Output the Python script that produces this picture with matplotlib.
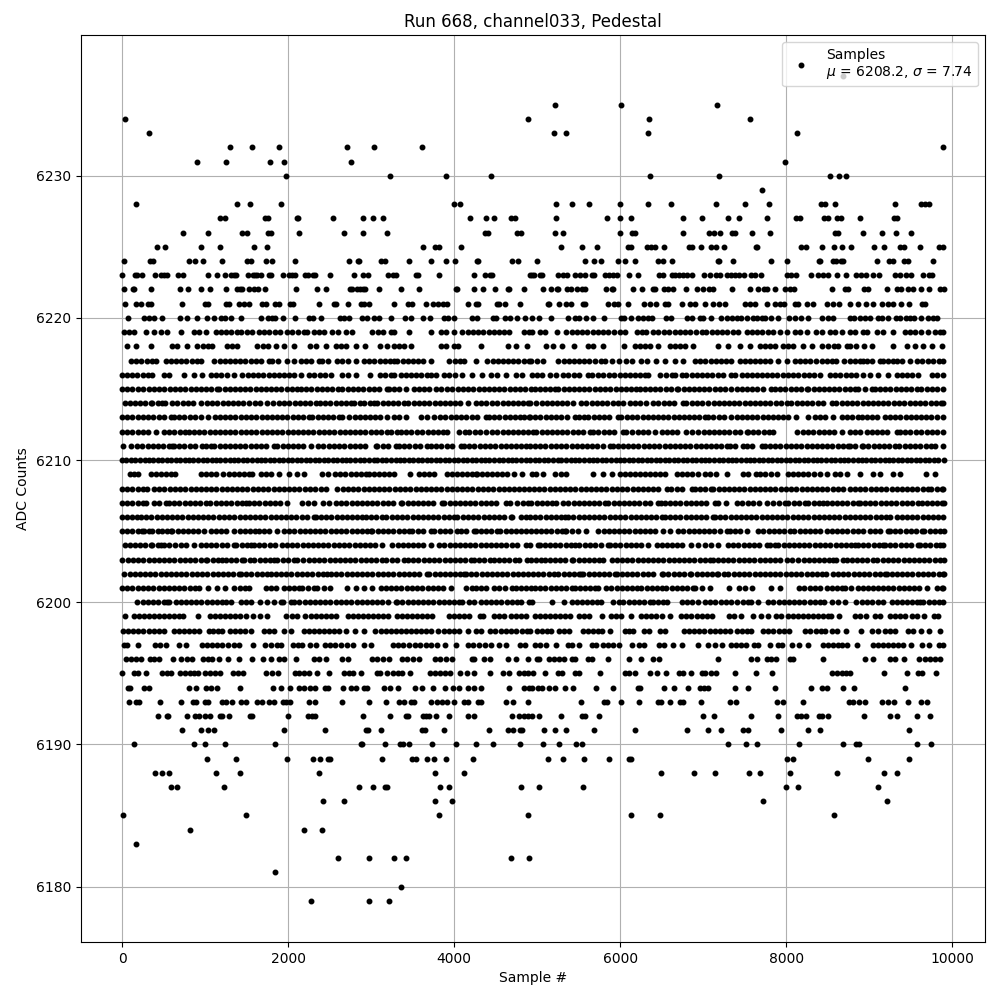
import matplotlib
matplotlib.use("Agg")
import matplotlib.pyplot as plt

# Sample numbers, one list per ADC level
s6179 = [2277, 2976, 3217]
s6180 = [3361]
s6181 = [1843]
s6182 = [2602, 2976, 3277, 3422, 4687, 4904]
s6183 = [169]
s6184 = [819, 2193, 2410]
s6185 = [12, 1494, 3819, 4892, 6133, 6482, 8578]
s6186 = [2422, 2675, 3771, 3976, 7723, 9217]
s6187 = [590, 663, 1229, 2855, 3024, 3169, 3193, 3831, 3940, 4807, 5024, 5554, 8000, 8145, 9108]
s6188 = [398, 482, 566, 1133, 1422, 2373, 3771, 4120, 6494, 6892, 7145, 7554, 7687, 8048, 8614, 9181, 9337]
s6189 = [1024, 1373, 1988, 2301, 2385, 2482, 2506, 3133, 3494, 3542, 3675, 3759, 3904, 4229, 5133, 5313, 5566, 5867,
         6108, 6133, 8012, 8084, 8988, 9482]
s6190 = [145, 867, 1000, 1241, 1843, 2880, 2892, 3169, 3349, 3386, 3458, 3735, 4024, 4265, 4470, 4795, 5072, 5265,
         5470, 5542, 7301, 7518, 7651, 8157, 8687, 8843, 8880, 9578, 9747]
s6191 = [723, 952, 1036, 1108, 1952, 2446, 2940, 2964, 3120, 3614, 3651, 3880, 4422, 4650, 4711, 4795, 4819, 5084,
         5217, 5349, 5687, 6181, 6807, 7060, 7217, 7482, 7542, 7940, 8265, 8410, 9482]
s6192 = [434, 542, 554, 783, 880, 928, 1000, 1060, 1181, 1205, 1289, 1542, 1566, 2000, 2241, 2289, 2325, 2904, 3229,
         3422, 3446, 3627, 3663, 3699, 3783, 3940, 4169, 4241, 4699, 4783, 4843, 4892, 4940, 5024, 5289, 5542, 5578,
         5747, 7000, 7133, 7578, 7904, 8133, 8181, 8241, 8398, 8434, 8506, 8940, 9253, 9337, 9578, 9735]
s6193 = [84, 169, 205, 458, 711, 855, 892, 1000, 1036, 1205, 1253, 1325, 1430, 1494, 1627, 1687, 1771, 1831, 1940,
         1976, 2024, 2253, 2325, 2651, 2976, 3181, 3337, 3398, 3482, 3518, 3723, 3795, 3855, 3916, 4000, 4120, 4169,
         4289, 4325, 4626, 4711, 4892, 5530, 5807, 5843, 6012, 6229, 6458, 6494, 6606, 6723, 6759, 6976, 7325, 7398,
         7892, 7964, 8205, 8759, 8807, 8880, 8952, 9157, 9229, 9301, 9470, 9627, 9699]
s6194 = [72, 96, 265, 325, 807, 892, 1012, 1072, 1145, 1422, 1819, 1916, 2024, 2133, 2193, 2265, 2325, 2446, 2482,
         2663, 2759, 2819, 2916, 2952, 3157, 3229, 3325, 3530, 3614, 3747, 3892, 3988, 4060, 4161, 4241, 4321, 4662,
         4843, 4904, 4932, 5012, 5060, 5145, 5217, 5337, 5434, 5711, 5916, 6217, 6241, 6530, 6651, 6819, 6964, 7012,
         7060, 7386, 7542, 7867, 8301, 8434, 8494, 8687, 8819, 9434]
s6195 = [0, 145, 193, 289, 482, 542, 590, 699, 759, 819, 867, 916, 1000, 1060, 1120, 1181, 1337, 1398, 1458, 1735,
         1807, 1879, 2084, 2133, 2193, 2253, 2349, 2494, 2675, 2735, 2783, 2880, 3072, 3108, 3193, 3265, 3325, 3373,
         3470, 3711, 3771, 3831, 3892, 3952, 4072, 4157, 4241, 4434, 4594, 4663, 4783, 4843, 4892, 4952, 5096, 5253,
         5301, 5458, 5506, 5759, 6060, 6108, 6181, 6361, 6446, 6554, 6711, 6759, 6855, 6988, 7024, 7096, 7157, 7386,
         7639, 7831, 8554, 8614, 8675, 8723, 8771, 9181, 9458, 9590, 9638, 9807]
s6196 = [48, 104, 165, 225, 337, 386, 446, 618, 711, 783, 843, 976, 1036, 1084, 1169, 1277, 1410, 1566, 1699, 1795,
         1892, 1952, 2096, 2313, 2373, 2458, 2651, 2723, 3012, 3072, 3145, 3217, 3373, 3434, 3506, 3578, 3771, 3831,
         3904, 3976, 4217, 4241, 4361, 4434, 4650, 4747, 4892, 5000, 5024, 5145, 5205, 5265, 5325, 5422, 5458, 5618,
         5655, 5855, 6108, 6253, 6398, 6470, 7181, 7578, 7651, 7771, 7819, 7880, 8048, 8084, 8446, 8952, 9048, 9253,
         9313, 9422, 9602, 9675, 9735, 9795, 9855]
s6197 = [24, 64, 193, 398, 458, 530, 687, 771, 964, 1024, 1084, 1145, 1205, 1277, 1349, 1410, 1578, 1723, 1795, 1867,
         1916, 2060, 2120, 2169, 2265, 2337, 2446, 2506, 2566, 2639, 2711, 2783, 2916, 3000, 3265, 3325, 3386, 3458,
         3530, 3590, 3663, 3723, 3795, 3892, 4024, 4169, 4229, 4301, 4373, 4446, 4542, 4626, 4795, 4855, 4972, 5032,
         5104, 5229, 5373, 5422, 5506, 5663, 5711, 5795, 5855, 5916, 5988, 6145, 6229, 6289, 6470, 6530, 6639, 6747,
         6940, 7060, 7145, 7229, 7337, 7398, 7458, 7518, 7614, 7663, 7807, 7904, 7952, 8072, 8157, 8265, 8446, 8506,
         8566, 8627, 8675, 8735, 8855, 9048, 9108, 9169, 9229, 9289, 9349, 9410, 9506, 9631, 9723, 9843, 9890]
s6198 = [12, 72, 133, 193, 253, 325, 386, 446, 506, 627, 687, 747, 807, 867, 928, 1048, 1096, 1157, 1205, 1301, 1361,
         1422, 1482, 1554, 1711, 1771, 1831, 1952, 2032, 2193, 2253, 2313, 2373, 2434, 2494, 2554, 2614, 2699, 2807,
         2916, 3048, 3120, 3181, 3241, 3301, 3361, 3422, 3482, 3542, 3602, 3663, 3723, 3807, 3879, 3940, 4000, 4060,
         4169, 4265, 4325, 4434, 4494, 4566, 4626, 4687, 4747, 4819, 4879, 4912, 5000, 5060, 5120, 5169, 5265, 5325,
         5386, 5554, 5614, 5675, 5735, 5783, 5880, 6060, 6108, 6157, 6289, 6349, 6482, 6542, 6771, 6831, 6892, 6952,
         7012, 7084, 7145, 7205, 7265, 7325, 7410, 7470, 7530, 7578, 7723, 7783, 7843, 7916, 7976, 8036, 8229, 8289,
         8361, 8422, 8470, 8554, 8614, 8723, 8904, 9036, 9108, 9193, 9253, 9313, 9470, 9530, 9627, 9723, 9855]
s6199 = [36, 145, 205, 265, 325, 386, 446, 506, 566, 627, 687, 735, 916, 1060, 1120, 1181, 1241, 1301, 1361, 1422,
         1494, 1578, 1663, 1751, 1976, 2052, 2112, 2205, 2277, 2337, 2398, 2458, 2518, 2578, 2723, 2783, 2843, 2904,
         2964, 3024, 3084, 3145, 3205, 3313, 3373, 3434, 3494, 3554, 3614, 3675, 3735, 3940, 4000, 4060, 4120, 4181,
         4313, 4349, 4482, 4542, 4602, 4687, 4747, 4807, 4868, 4976, 5036, 5096, 5157, 5217, 5277, 5337, 5398, 5506,
         5566, 5627, 5783, 5892, 5952, 6012, 6133, 6253, 6313, 6373, 6434, 6506, 6602, 6735, 6795, 6855, 6928, 6988,
         7048, 7108, 7313, 7373, 7458, 7602, 7699, 7783, 7880, 7940, 8024, 8084, 8145, 8205, 8265, 8325, 8386, 8446,
         8506, 8542, 8639, 8831, 8892, 8964, 9072, 9132, 9253, 9313, 9373, 9434, 9518, 9578, 9663, 9783, 9831]
s6200 = [185, 250, 310, 375, 435, 500, 546, 566, 646, 707, 770, 830, 895, 955, 1020, 1080, 1145, 1205, 1249, 1317,
         1430, 1498, 1558, 1662, 1751, 1830, 1912, 1944, 2040, 2072, 2135, 2200, 2260, 2325, 2385, 2450, 2510, 2575,
         2635, 2700, 2760, 2825, 2885, 2950, 3010, 3075, 3135, 3200, 3297, 3317, 3377, 3440, 3500, 3565, 3625, 3690,
         3750, 3815, 3875, 3940, 4000, 4060, 4100, 4175, 4241, 4321, 4385, 4445, 4510, 4570, 4635, 4695, 4760, 4803,
         4904, 4932, 5177, 5325, 5414, 5475, 5540, 5600, 5665, 5725, 5775, 5916, 5980, 6040, 6105, 6165, 6230, 6290,
         6357, 6398, 6460, 6520, 6566, 6739, 6800, 6865, 6940, 7020, 7085, 7145, 7210, 7270, 7335, 7402, 7482, 7540,
         7582, 7663, 7783, 7845, 7910, 7970, 8035, 8095, 8160, 8220, 8285, 8345, 8406, 8450, 8546, 8626, 8707, 8847,
         8910, 8970, 9035, 9108, 9169, 9269, 9330, 9395, 9455, 9520, 9580, 9610, 9651, 9715, 9775, 9840, 9892]
s6201 = [0, 65, 125, 190, 250, 315, 375, 440, 500, 565, 625, 690, 750, 815, 875, 928, 1036, 1141, 1245, 1349, 1415,
         1475, 1530, 1731, 1795, 1860, 1952, 2012, 2075, 2133, 2173, 2240, 2313, 2345, 2430, 2510, 2715, 2815, 2916,
         3016, 3116, 3180, 3240, 3305, 3365, 3430, 3490, 3555, 3615, 3680, 3740, 3805, 3865, 3960, 4141, 4221, 4261,
         4320, 4381, 4482, 4545, 4610, 4703, 4743, 4810, 4870, 4920, 4975, 5040, 5100, 5165, 5225, 5290, 5350, 5414,
         5454, 5520, 5580, 5640, 5695, 5735, 5835, 5895, 5960, 6020, 6085, 6145, 6197, 6257, 6320, 6380, 6440, 6498,
         6558, 6620, 6685, 6745, 6810, 6880, 6900, 6980, 7084, 7313, 7434, 7500, 7594, 7823, 7924, 8157, 8220, 8285,
         8345, 8406, 8486, 8550, 8610, 8675, 8707, 8779, 8867, 8930, 8988, 9040, 9105, 9165, 9230, 9290, 9355, 9415,
         9480, 9540, 9605, 9691, 9811, 9875, 9895]
s6202 = [24, 90, 150, 215, 275, 340, 400, 465, 525, 590, 650, 715, 775, 840, 900, 965, 1025, 1090, 1150, 1215, 1275,
         1340, 1410, 1430, 1495, 1555, 1620, 1680, 1751, 1791, 1855, 1915, 1980, 2040, 2105, 2165, 2230, 2290, 2355,
         2415, 2474, 2514, 2580, 2640, 2705, 2765, 2830, 2890, 2955, 3015, 3080, 3140, 3205, 3265, 3330, 3390, 3455,
         3515, 3580, 3679, 3699, 3765, 3825, 3890, 3950, 4015, 4075, 4120, 4141, 4205, 4265, 4330, 4390, 4455, 4515,
         4580, 4640, 4705, 4765, 4830, 4890, 4950, 5015, 5075, 5140, 5200, 5253, 5321, 5385, 5445, 5510, 5534, 5554,
         5620, 5680, 5745, 5805, 5870, 5936, 5956, 6020, 6080, 6145, 6205, 6270, 6330, 6395, 6498, 6518, 6580, 6645,
         6705, 6770, 6839, 6859, 6925, 6985, 7050, 7110, 7161, 7181, 7245, 7305, 7370, 7430, 7495, 7555, 7620, 7680,
         7745, 7805, 7870, 7930, 7995, 8055, 8120, 8180, 8245, 8305, 8370, 8426, 8478, 8566, 8627, 8690, 8750, 8815,
         8875, 8940, 9000, 9065, 9125, 9189, 9209, 9270, 9335, 9395, 9460, 9520, 9585, 9645, 9710, 9770, 9835, 9890,
         9897]
s6203 = [4, 70, 130, 195, 255, 320, 380, 445, 505, 570, 630, 695, 755, 820, 880, 945, 1008, 1028, 1090, 1150, 1209,
         1249, 1315, 1375, 1450, 1470, 1535, 1595, 1660, 1720, 1785, 1831, 1871, 1935, 2000, 2072, 2112, 2185, 2250,
         2310, 2375, 2435, 2500, 2560, 2625, 2685, 2750, 2810, 2875, 2935, 3000, 3060, 3125, 3185, 3250, 3310, 3398,
         3446, 3510, 3570, 3635, 3695, 3760, 3820, 3885, 3945, 4010, 4070, 4135, 4201, 4241, 4305, 4365, 4430, 4482,
         4542, 4605, 4665, 4730, 4783, 4880, 4930, 4990, 5052, 5092, 5155, 5215, 5280, 5340, 5414, 5434, 5500, 5560,
         5625, 5685, 5750, 5795, 5896, 5960, 6020, 6085, 6145, 6210, 6270, 6335, 6395, 6460, 6520, 6585, 6645, 6710,
         6770, 6835, 6895, 6960, 7020, 7080, 7120, 7181, 7241, 7305, 7365, 7430, 7490, 7555, 7615, 7680, 7740, 7805,
         7865, 7930, 8004, 8072, 8144, 8210, 8270, 8335, 8395, 8460, 8520, 8566, 8606, 8687, 8727, 8790, 8850, 8915,
         8975, 9040, 9100, 9165, 9225, 9290, 9350, 9415, 9475, 9540, 9600, 9665, 9725, 9790, 9850, 9896]
s6204 = [30, 95, 155, 220, 280, 345, 365, 430, 466, 506, 570, 634, 707, 770, 867, 948, 1010, 1075, 1135, 1200, 1260,
         1349, 1370, 1450, 1502, 1550, 1590, 1655, 1715, 1780, 1840, 1924, 1984, 2050, 2110, 2175, 2235, 2300, 2360,
         2425, 2485, 2550, 2610, 2675, 2735, 2800, 2860, 2925, 2985, 3050, 3137, 3257, 3320, 3380, 3445, 3505, 3570,
         3630, 3727, 3819, 3880, 3945, 4005, 4070, 4130, 4195, 4255, 4320, 4380, 4445, 4505, 4570, 4630, 4695, 4763,
         4860, 4912, 5012, 5032, 5095, 5155, 5220, 5280, 5345, 5405, 5454, 5506, 5574, 5640, 5700, 5765, 5855, 5876,
         5940, 6000, 6065, 6125, 6190, 6250, 6337, 6438, 6500, 6565, 6625, 6690, 6750, 6859, 6940, 7020, 7100, 7181,
         7301, 7365, 7425, 7490, 7550, 7615, 7675, 7763, 7803, 7863, 7904, 7970, 8030, 8095, 8155, 8220, 8280, 8345,
         8405, 8470, 8530, 8595, 8655, 8720, 8780, 8827, 8867, 8930, 8990, 9055, 9115, 9169, 9189, 9255, 9315, 9380,
         9440, 9505, 9590, 9610, 9675, 9735, 9800, 9852, 9892]
s6205 = [0, 65, 125, 190, 245, 265, 330, 365, 430, 486, 540, 586, 606, 670, 730, 795, 855, 920, 988, 1068, 1130, 1190,
         1249, 1349, 1415, 1475, 1540, 1600, 1650, 1711, 1771, 1871, 1952, 2015, 2075, 2140, 2200, 2265, 2325, 2390,
         2450, 2515, 2575, 2640, 2700, 2765, 2825, 2890, 2950, 2996, 3016, 3080, 3140, 3205, 3265, 3330, 3390, 3458,
         3498, 3560, 3620, 3719, 3759, 3825, 3885, 3950, 4040, 4080, 4145, 4241, 4261, 4325, 4385, 4450, 4522, 4554,
         4622, 4685, 4745, 4810, 4870, 4920, 4985, 5045, 5110, 5170, 5235, 5295, 5333, 5353, 5420, 5494, 5586, 5735,
         5800, 5860, 5925, 5985, 6050, 6110, 6175, 6235, 6300, 6360, 6425, 6518, 6602, 6699, 6760, 6825, 6885, 6950,
         7010, 7075, 7135, 7200, 7281, 7321, 7385, 7445, 7522, 7663, 7725, 7790, 7850, 7915, 7975, 8040, 8100, 8165,
         8225, 8290, 8350, 8406, 8486, 8550, 8610, 8675, 8735, 8800, 8860, 8925, 9008, 9068, 9130, 9229, 9249, 9315,
         9375, 9440, 9500, 9565, 9631, 9663, 9730, 9790, 9855, 9896]
s6206 = [0, 60, 125, 185, 225, 290, 350, 415, 475, 540, 600, 665, 725, 790, 850, 915, 975, 1040, 1100, 1165, 1225,
         1290, 1350, 1415, 1475, 1540, 1600, 1665, 1725, 1790, 1850, 1915, 1975, 2040, 2100, 2165, 2225, 2313, 2333,
         2395, 2460, 2520, 2585, 2645, 2710, 2770, 2835, 2896, 2936, 3000, 3060, 3125, 3185, 3250, 3310, 3375, 3435,
         3500, 3560, 3625, 3685, 3750, 3810, 3875, 3935, 4000, 4040, 4105, 4165, 4230, 4290, 4355, 4415, 4480, 4540,
         4605, 4683, 4703, 4803, 4860, 4915, 4980, 5040, 5105, 5165, 5230, 5290, 5333, 5373, 5435, 5500, 5560, 5625,
         5685, 5750, 5810, 5875, 5935, 6000, 6060, 6125, 6185, 6250, 6310, 6375, 6435, 6498, 6538, 6600, 6665, 6725,
         6790, 6850, 6915, 6975, 7040, 7120, 7140, 7205, 7265, 7330, 7390, 7455, 7515, 7580, 7640, 7705, 7765, 7830,
         7890, 7955, 8015, 8080, 8140, 8205, 8265, 8330, 8390, 8455, 8515, 8580, 8640, 8705, 8765, 8830, 8890, 8955,
         9015, 9080, 9140, 9205, 9249, 9329, 9395, 9455, 9520, 9580, 9645, 9705, 9770, 9830, 9892]
s6207 = [0, 65, 125, 190, 250, 285, 385, 450, 526, 566, 630, 690, 755, 815, 880, 940, 1005, 1065, 1130, 1190, 1255,
         1315, 1380, 1440, 1490, 1530, 1595, 1655, 1720, 1780, 1845, 1905, 1990, 2173, 2240, 2313, 2426, 2494, 2574,
         2640, 2700, 2765, 2825, 2890, 2950, 3015, 3075, 3140, 3200, 3265, 3357, 3377, 3440, 3500, 3565, 3625, 3690,
         3750, 3859, 3879, 3945, 4005, 4070, 4130, 4195, 4255, 4320, 4380, 4445, 4505, 4622, 4675, 4763, 4825, 4885,
         4930, 4995, 5055, 5120, 5173, 5233, 5313, 5375, 5440, 5500, 5565, 5625, 5690, 5750, 5815, 5855, 5920, 5980,
         6045, 6105, 6170, 6230, 6295, 6355, 6458, 6490, 6538, 6600, 6665, 6725, 6790, 6850, 6915, 6975, 7040, 7140,
         7180, 7280, 7402, 7470, 7542, 7602, 7670, 7763, 7843, 7915, 7984, 8024, 8090, 8160, 8225, 8265, 8330, 8390,
         8446, 8486, 8550, 8610, 8675, 8735, 8800, 8867, 8888, 8950, 9015, 9075, 9140, 9200, 9265, 9325, 9390, 9450,
         9515, 9590, 9631, 9695, 9755, 9820, 9880, 9898]
s6208 = [4, 64, 124, 190, 250, 304, 385, 450, 510, 575, 635, 700, 760, 825, 885, 950, 1010, 1075, 1135, 1200, 1260,
         1325, 1385, 1450, 1510, 1575, 1635, 1700, 1760, 1825, 1885, 1950, 2010, 2075, 2135, 2200, 2260, 2325, 2400,
         2454, 2594, 2660, 2720, 2785, 2845, 2910, 2970, 3035, 3095, 3160, 3220, 3285, 3345, 3410, 3470, 3535, 3595,
         3660, 3720, 3785, 3845, 3910, 3970, 4035, 4095, 4160, 4220, 4285, 4345, 4410, 4470, 4535, 4595, 4660, 4720,
         4785, 4845, 4900, 4960, 5025, 5085, 5150, 5210, 5275, 5335, 5400, 5460, 5525, 5585, 5650, 5710, 5775, 5835,
         5900, 5960, 6025, 6085, 6150, 6210, 6275, 6335, 6400, 6460, 6560, 6618, 6680, 6745, 6860, 6900, 6965, 7025,
         7100, 7120, 7185, 7245, 7310, 7370, 7435, 7495, 7560, 7620, 7685, 7745, 7810, 7870, 7935, 7995, 8060, 8120,
         8185, 8245, 8310, 8370, 8435, 8495, 8560, 8620, 8685, 8770, 8830, 8895, 8955, 9020, 9080, 9145, 9205, 9270,
         9330, 9395, 9455, 9520, 9580, 9645, 9710, 9750, 9815, 9875, 9894]
s6209 = [92, 145, 197, 345, 405, 465, 525, 585, 634, 948, 1010, 1070, 1130, 1210, 1290, 1350, 1410, 1470, 1530, 1570,
         1670, 1730, 1790, 1890, 2010, 2110, 2190, 2413, 2482, 2570, 2630, 2690, 2755, 2815, 2875, 2936, 2976, 3036,
         3096, 3156, 3216, 3277, 3470, 3578, 3640, 3700, 3759, 3920, 3980, 4040, 4100, 4160, 4220, 4261, 4281, 4341,
         4401, 4460, 4520, 4580, 4640, 4723, 4823, 4932, 4992, 5072, 5213, 5293, 5353, 5675, 5795, 5896, 5996, 6056,
         6116, 6176, 6236, 6296, 6356, 6416, 6476, 6540, 6679, 6739, 6800, 6860, 6940, 7020, 7080, 7160, 7289, 7482,
         7542, 7640, 7683, 7743, 7823, 7884, 8024, 8084, 8144, 8204, 8264, 8340, 8405, 8486, 8586, 8646, 8727, 8888,
         9048, 9128, 9289, 9369, 9679, 9791]
s6210 = [0, 50, 105, 160, 215, 270, 320, 375, 430, 485, 540, 590, 645, 700, 755, 810, 860, 915, 970, 1025, 1080, 1130,
         1185, 1240, 1295, 1350, 1400, 1455, 1510, 1565, 1620, 1670, 1725, 1780, 1835, 1890, 1940, 1995, 2050, 2105,
         2160, 2210, 2265, 2320, 2375, 2430, 2480, 2535, 2590, 2645, 2700, 2750, 2805, 2860, 2915, 2970, 3036, 3076,
         3130, 3185, 3240, 3295, 3345, 3400, 3455, 3510, 3565, 3615, 3670, 3725, 3780, 3835, 3885, 3940, 3995, 4050,
         4105, 4155, 4210, 4265, 4320, 4375, 4425, 4480, 4535, 4590, 4645, 4695, 4750, 4805, 4860, 4915, 4970, 5025,
         5080, 5135, 5185, 5253, 5293, 5350, 5405, 5455, 5510, 5565, 5620, 5675, 5725, 5780, 5835, 5890, 5945, 5995,
         6050, 6105, 6160, 6215, 6265, 6320, 6375, 6430, 6485, 6535, 6590, 6645, 6700, 6755, 6805, 6860, 6915, 6970,
         7025, 7075, 7130, 7185, 7240, 7295, 7345, 7400, 7455, 7510, 7565, 7615, 7670, 7725, 7780, 7835, 7885, 7940,
         7995, 8050, 8105, 8155, 8210, 8265, 8320, 8375, 8425, 8480, 8535, 8590, 8645, 8695, 8750, 8805, 8860, 8915,
         8965, 9020, 9075, 9130, 9185, 9235, 9290, 9345, 9400, 9455, 9505, 9560, 9615, 9670, 9725, 9775, 9830, 9899]
s6211 = [16, 112, 180, 245, 310, 370, 435, 495, 560, 606, 626, 690, 750, 815, 875, 968, 1008, 1068, 1108, 1175, 1235,
         1300, 1360, 1425, 1485, 1550, 1610, 1675, 1735, 1831, 1871, 1935, 1995, 2060, 2120, 2185, 2273, 2361, 2426,
         2490, 2550, 2615, 2675, 2740, 2800, 2865, 2925, 3056, 3076, 3140, 3200, 3297, 3337, 3400, 3460, 3525, 3585,
         3679, 3719, 3785, 3845, 3910, 3970, 4080, 4120, 4185, 4245, 4310, 4370, 4435, 4495, 4560, 4620, 4685, 4745,
         4810, 4870, 4912, 4975, 5040, 5100, 5165, 5225, 5290, 5350, 5415, 5475, 5540, 5600, 5665, 5725, 5790, 5875,
         5908, 5970, 6035, 6095, 6160, 6220, 6285, 6345, 6410, 6470, 6535, 6595, 6660, 6720, 6785, 6845, 6910, 6970,
         7035, 7095, 7160, 7220, 7281, 7321, 7385, 7482, 7522, 7590, 7703, 7743, 7805, 7870, 7930, 7995, 8055, 8120,
         8180, 8245, 8305, 8370, 8430, 8495, 8555, 8620, 8680, 8747, 8770, 8827, 8908, 8928, 8990, 9055, 9115, 9180,
         9240, 9305, 9365, 9430, 9490, 9555, 9615, 9680, 9740, 9791, 9892]
s6212 = [0, 65, 125, 190, 250, 315, 406, 506, 570, 630, 695, 755, 807, 867, 930, 990, 1055, 1115, 1180, 1240, 1305,
         1365, 1430, 1490, 1555, 1615, 1680, 1740, 1811, 1871, 1932, 1995, 2055, 2120, 2180, 2245, 2305, 2370, 2430,
         2495, 2555, 2620, 2680, 2745, 2805, 2870, 2930, 2995, 3055, 3120, 3197, 3237, 3317, 3357, 3420, 3480, 3558,
         3618, 3680, 3745, 3805, 3870, 3920, 4060, 4125, 4185, 4250, 4310, 4381, 4462, 4522, 4585, 4645, 4710, 4770,
         4835, 4895, 4952, 4992, 5055, 5115, 5180, 5240, 5305, 5365, 5430, 5490, 5555, 5635, 5675, 5735, 5800, 5860,
         5925, 6036, 6076, 6140, 6217, 6277, 6340, 6418, 6498, 6560, 6625, 6685, 6799, 6871, 6940, 7005, 7065, 7130,
         7190, 7255, 7315, 7380, 7440, 7522, 7542, 7605, 7665, 7730, 7790, 7843, 8136, 8200, 8265, 8325, 8390, 8450,
         8515, 8575, 8667, 8767, 8830, 8895, 8968, 9028, 9090, 9155, 9215, 9329, 9369, 9435, 9495, 9560, 9620, 9691,
         9751, 9815, 9892]
s6213 = [0, 65, 125, 190, 250, 315, 375, 440, 500, 586, 626, 690, 750, 815, 875, 948, 1036, 1116, 1180, 1240, 1305,
         1365, 1430, 1490, 1555, 1615, 1680, 1740, 1805, 1865, 1930, 1990, 2055, 2115, 2180, 2253, 2293, 2360, 2420,
         2485, 2545, 2614, 2655, 2735, 2800, 2860, 2925, 2985, 3050, 3110, 3197, 3277, 3340, 3418, 3598, 3679, 3759,
         3825, 3885, 3960, 4020, 4085, 4145, 4210, 4270, 4381, 4422, 4485, 4545, 4610, 4670, 4735, 4795, 4843, 4904,
         4912, 4980, 5040, 5105, 5165, 5230, 5290, 5355, 5454, 5510, 5565, 5614, 5680, 5740, 5805, 5865, 5976, 6016,
         6080, 6145, 6205, 6270, 6330, 6395, 6455, 6520, 6580, 6645, 6705, 6770, 6830, 6895, 6955, 7020, 7060, 7120,
         7185, 7245, 7341, 7402, 7465, 7525, 7590, 7650, 7715, 7775, 7840, 7900, 7965, 8025, 8124, 8265, 8345, 8406,
         8470, 8566, 8667, 8730, 8795, 8867, 8908, 8975, 9035, 9100, 9189, 9249, 9315, 9375, 9440, 9500, 9565, 9625,
         9690, 9750, 9815, 9892]
s6214 = [32, 95, 155, 220, 280, 345, 365, 430, 486, 514, 598, 667, 730, 790, 855, 948, 1020, 1085, 1145, 1210, 1270,
         1335, 1395, 1460, 1530, 1598, 1660, 1751, 1819, 1892, 1955, 2015, 2080, 2140, 2205, 2265, 2333, 2386, 2450,
         2510, 2575, 2635, 2700, 2755, 2795, 2860, 2920, 2985, 3036, 3076, 3140, 3200, 3265, 3325, 3390, 3450, 3515,
         3575, 3640, 3700, 3765, 3825, 3890, 3950, 4015, 4075, 4161, 4261, 4325, 4385, 4462, 4522, 4585, 4645, 4710,
         4770, 4835, 4895, 4912, 4992, 5055, 5115, 5180, 5240, 5305, 5365, 5430, 5534, 5594, 5660, 5720, 5785, 5845,
         5910, 5970, 6035, 6116, 6177, 6237, 6317, 6398, 6460, 6525, 6585, 6650, 6759, 6799, 6860, 6920, 6988, 7060,
         7125, 7185, 7250, 7310, 7375, 7435, 7500, 7560, 7625, 7685, 7750, 7810, 7875, 7935, 8004, 8064, 8130, 8190,
         8255, 8315, 8380, 8440, 8546, 8598, 8667, 8730, 8795, 8855, 8920, 8980, 9045, 9105, 9170, 9230, 9295, 9355,
         9420, 9490, 9550, 9615, 9675, 9740, 9800, 9865, 9893]
s6215 = [0, 65, 125, 190, 250, 325, 385, 450, 510, 575, 635, 700, 760, 825, 885, 950, 1010, 1075, 1148, 1169, 1235,
         1295, 1360, 1420, 1485, 1545, 1610, 1670, 1735, 1795, 1860, 1920, 1985, 2045, 2112, 2153, 2220, 2280, 2345,
         2405, 2470, 2530, 2595, 2655, 2720, 2780, 2845, 2905, 2970, 3030, 3095, 3197, 3217, 3280, 3340, 3418, 3518,
         3580, 3640, 3699, 3779, 3839, 3920, 3980, 4045, 4105, 4170, 4230, 4295, 4355, 4420, 4480, 4545, 4605, 4670,
         4730, 4795, 4855, 4920, 4975, 5035, 5100, 5160, 5213, 5253, 5320, 5380, 5445, 5505, 5570, 5630, 5695, 5755,
         5820, 5880, 5945, 6005, 6070, 6136, 6189, 6237, 6300, 6360, 6425, 6485, 6550, 6610, 6679, 6699, 6765, 6825,
         6890, 6950, 7015, 7075, 7140, 7200, 7265, 7341, 7402, 7465, 7525, 7590, 7650, 7715, 7823, 7863, 7930, 7990,
         8055, 8115, 8180, 8245, 8265, 8330, 8390, 8455, 8515, 8580, 8640, 8705, 8765, 8827, 8867, 8950, 9028, 9068,
         9130, 9195, 9255, 9320, 9380, 9445, 9505, 9570, 9630, 9695, 9755, 9820, 9892]
s6216 = [0, 60, 125, 185, 250, 310, 365, 506, 566, 747, 867, 968, 1068, 1135, 1195, 1260, 1349, 1450, 1515, 1575, 1640,
         1700, 1765, 1825, 1890, 1950, 2015, 2075, 2153, 2253, 2315, 2380, 2440, 2514, 2655, 2720, 2815, 2988, 3108,
         3170, 3237, 3277, 3357, 3420, 3480, 3545, 3605, 3670, 3719, 3779, 3879, 3940, 4005, 4100, 4221, 4341, 4442,
         4522, 4622, 4743, 4823, 4932, 4995, 5055, 5153, 5233, 5313, 5375, 5440, 5500, 5614, 5655, 5735, 5795, 5860,
         5920, 5996, 6056, 6115, 6177, 6237, 6300, 6337, 6478, 6558, 6620, 6659, 6739, 6799, 6860, 6925, 6985, 7050,
         7110, 7175, 7235, 7341, 7381, 7462, 7522, 7585, 7645, 7710, 7770, 7835, 7895, 7960, 8020, 8085, 8145, 8210,
         8270, 8335, 8406, 8526, 8590, 8650, 8715, 8775, 8840, 8928, 9008, 9108, 9229, 9329, 9395, 9455, 9510, 9590,
         9751, 9815, 9892]
s6217 = [104, 170, 230, 295, 355, 406, 526, 590, 650, 715, 775, 840, 900, 948, 1108, 1175, 1235, 1300, 1360, 1425,
         1485, 1550, 1610, 1675, 1771, 1811, 1875, 1992, 2072, 2153, 2215, 2280, 2373, 2414, 2480, 2594, 2655, 2720,
         2815, 2916, 2980, 3040, 3105, 3165, 3230, 3277, 3317, 3380, 3440, 3505, 3565, 3630, 3719, 3940, 4005, 4065,
         4120, 4261, 4401, 4465, 4525, 4590, 4650, 4715, 4775, 4840, 4900, 4930, 5000, 5072, 5253, 5320, 5380, 5445,
         5505, 5570, 5630, 5695, 5775, 5815, 5896, 5988, 6076, 6140, 6257, 6325, 6430, 6538, 6659, 6759, 6900, 6965,
         7025, 7090, 7150, 7215, 7275, 7340, 7442, 7502, 7570, 7630, 7683, 7743, 7810, 7904, 8004, 8104, 8165, 8230,
         8290, 8365, 8426, 8490, 8550, 8606, 8699, 8767, 8830, 8895, 8928, 8968, 9030, 9128, 9169, 9230, 9289, 9329,
         9395, 9490, 9570, 9640, 9711, 9771, 9835, 9892]
s6218 = [64, 165, 345, 606, 667, 787, 908, 970, 1030, 1088, 1269, 1330, 1390, 1630, 1695, 1755, 1851, 1952, 2072, 2265,
         2333, 2454, 2574, 2640, 2700, 2815, 2928, 3108, 3197, 3277, 3340, 3400, 3478, 3839, 3900, 4000, 4048, 4329,
         4643, 4743, 4880, 5112, 5193, 5301, 5446, 5614, 5675, 5795, 6048, 6177, 6240, 6300, 6365, 6458, 6598, 6660,
         6725, 6785, 6880, 7181, 7301, 7442, 7562, 7683, 7745, 7810, 7870, 7964, 8024, 8084, 8205, 8305, 8426, 8506,
         8570, 8630, 8727, 8767, 8847, 8940, 9028, 9281, 9450, 9550, 9651, 9751, 9879]
s6219 = [24, 85, 145, 285, 386, 466, 546, 715, 867, 930, 1008, 1128, 1190, 1255, 1315, 1380, 1430, 1510, 1570, 1650,
         1715, 1775, 1840, 1900, 1992, 2052, 2115, 2193, 2233, 2313, 2373, 2430, 2534, 2600, 2695, 2775, 3016, 3080,
         3140, 3237, 3277, 3458, 3719, 3839, 3900, 4000, 4100, 4165, 4225, 4290, 4350, 4415, 4475, 4540, 4600, 4663,
         4843, 4904, 4932, 5032, 5092, 5245, 5353, 5420, 5480, 5545, 5605, 5670, 5730, 5795, 5855, 5920, 5996, 6056,
         6197, 6260, 6317, 6398, 6460, 6525, 6585, 6659, 6719, 6785, 6845, 6910, 6980, 7040, 7105, 7165, 7230, 7290,
         7355, 7422, 7522, 7585, 7645, 7710, 7783, 7843, 7925, 8004, 8104, 8170, 8245, 8365, 8430, 8526, 8586, 8667,
         8767, 8830, 8928, 8968, 9088, 9169, 9289, 9430, 9495, 9555, 9620, 9711, 9791, 9855, 9893]
s6220 = [72, 265, 325, 386, 482, 699, 787, 904, 1024, 1108, 1193, 1241, 1313, 1434, 1675, 1759, 1807, 1843, 1940, 2084,
         2253, 2301, 2397, 2627, 2675, 2735, 2892, 2952, 3036, 3096, 3241, 3410, 3482, 3626, 3711, 3879, 3928, 4000,
         4217, 4277, 4470, 4506, 4614, 4675, 4759, 4855, 4940, 5024, 5161, 5373, 5458, 5506, 5590, 5675, 5807, 6012,
         6048, 6133, 6217, 6277, 6337, 6386, 6554, 6614, 6807, 6867, 6964, 7000, 7096, 7217, 7289, 7349, 7410, 7458,
         7530, 7602, 7651, 7711, 7747, 7819, 7904, 8036, 8108, 8181, 8265, 8434, 8506, 8566, 8771, 8819, 8892, 8952,
         9012, 9108, 9157, 9229, 9325, 9373, 9446, 9494, 9542, 9627, 9711, 9771, 9819]
s6221 = [36, 169, 229, 313, 345, 723, 1000, 1036, 1253, 1289, 1410, 1470, 1530, 1687, 1735, 1843, 1892, 2024, 2060,
         2373, 2554, 2578, 2723, 2880, 2916, 2976, 3277, 3446, 3494, 3663, 3747, 3807, 3867, 3916, 4169, 4265, 4293,
         4522, 4542, 4614, 4795, 5133, 5145, 5265, 5349, 5402, 5554, 5582, 5855, 5928, 5976, 6096, 6289, 6361, 6434,
         6542, 6578, 6747, 6843, 6904, 7024, 7120, 7193, 7265, 7506, 7566, 7627, 7771, 7867, 7928, 7976, 8108, 8144,
         8253, 8325, 8494, 8566, 8638, 8771, 8867, 8964, 9048, 9157, 9229, 9289, 9386, 9482, 9638, 9675]
s6222 = [24, 129, 145, 349, 699, 795, 952, 1060, 1253, 1386, 1422, 1446, 1530, 1590, 1639, 1723, 2096, 2349, 2458, 2747,
         2771, 2831, 2867, 2904, 2928, 3096, 3361, 3578, 4024, 4040, 4241, 4349, 4494, 4650, 4666, 4843, 5072, 5169,
         5241, 5253, 5361, 5410, 5482, 5542, 5578, 5831, 5904, 5916, 6157, 6265, 6398, 6422, 6530, 6578, 6639, 6795,
         6928, 7000, 7072, 7120, 7349, 7566, 7663, 7735, 7771, 7867, 7988, 8048, 8096, 8554, 8703, 8747, 8940, 8988,
         9217, 9337, 9386, 9470, 9530, 9627, 9723, 9855, 9896]
s6223 = [0, 157, 181, 241, 398, 470, 506, 542, 675, 735, 1036, 1145, 1241, 1313, 1349, 1373, 1518, 1578, 1602, 1630,
         1675, 1771, 1799, 1940, 2012, 2048, 2084, 2205, 2241, 2301, 2325, 2506, 2795, 2904, 2964, 3205, 3265, 3301,
         3542, 3566, 3819, 4241, 4373, 4434, 4458, 4916, 4932, 4968, 5036, 5064, 5253, 5313, 5361, 5458, 5518, 5578,
         5663, 5687, 5819, 5867, 5916, 5964, 6108, 6217, 6470, 6518, 6627, 6663, 6711, 6759, 6807, 6867, 7012, 7084,
         7157, 7205, 7289, 7337, 7385, 7434, 7494, 7578, 7627, 7699, 8012, 8060, 8120, 8301, 8386, 8446, 8506, 8614,
         8723, 8843, 8904, 8964, 9048, 9120, 9313, 9373, 9446, 9506, 9651, 9723, 9759]
s6224 = [24, 337, 369, 807, 880, 976, 1205, 1506, 1554, 1735, 1807, 2084, 2735, 2839, 2855, 3120, 3169, 3458, 3723,
         3904, 4012, 4277, 4293, 4699, 4771, 5000, 5578, 5687, 5771, 5976, 6060, 6181, 6458, 6518, 6627, 7181, 7193,
         7361, 7819, 8012, 8398, 8410, 8566, 8602, 8663, 8687, 9096, 9241, 9289, 9422, 9462, 9771]
s6225 = [422, 518, 952, 1181, 1590, 1747, 3626, 3771, 3819, 4084, 5289, 5542, 5723, 6096, 6133, 6325, 6373, 6422, 6530,
         6831, 6867, 6976, 7096, 7157, 7253, 7639, 7651, 8181, 8241, 8434, 8578, 8675, 8783, 9060, 9181, 9373, 9422,
         9614, 9843, 9891]
s6226 = [735, 1036, 1446, 1506, 1759, 1791, 2133, 2675, 2904, 3193, 4373, 4402, 4759, 4807, 5217, 5313, 6000, 6145,
         6181, 6759, 7072, 7133, 7205, 7349, 7385, 7590, 7807, 8590, 8626, 8928, 9157, 9325, 9506]
s6227 = [1181, 1241, 1723, 1755, 2108, 2120, 2542, 2904, 3024, 3145, 4193, 4386, 4482, 4687, 4735, 5229, 5843, 6000,
         6133, 6759, 6988, 7301, 7434, 7771, 8120, 8169, 8458, 8506, 8614, 8662, 8892, 9301, 9337]
s6228 = [169, 1386, 1542, 1916, 4000, 4072, 5229, 5422, 5627, 6000, 6337, 6614, 7157, 7506, 7795, 8422, 8470, 8590,
         9313, 9626, 9675, 9723]
s6229 = [7711]
s6230 = [1976, 3229, 3904, 4446, 6361, 7193, 8530, 8638, 8723]
s6231 = [904, 1253, 1783, 1952, 2759, 7988]
s6232 = [1301, 1566, 1892, 2711, 3036, 3614, 9891]
s6233 = [325, 5205, 5349, 6337, 8133]
s6234 = [36, 4895, 6349, 7566]
s6235 = [5217, 6012, 7169]
s6237 = [8688]

levels = [6179, 6180, 6181, 6182, 6183, 6184, 6185, 6186, 6187, 6188, 6189, 6190, 6191, 6192, 6193, 6194, 6195, 6196,
          6197, 6198, 6199, 6200, 6201, 6202, 6203, 6204, 6205, 6206, 6207, 6208, 6209, 6210, 6211, 6212, 6213, 6214,
          6215, 6216, 6217, 6218, 6219, 6220, 6221, 6222, 6223, 6224, 6225, 6226, 6227, 6228, 6229, 6230, 6231, 6232,
          6233, 6234, 6235, 6237]

# One x,y pair per dot
samples = []
counts = []
for level in levels:
    for s in globals()["s%d" % level]:
        samples.append(s)
        counts.append(level)

plt.figure(figsize=(10, 10))
plt.plot(samples, counts, "k.", markersize=6.5, label="Samples\n$\\mu$ = 6208.2, $\\sigma$ = 7.74")
plt.xlim(-495, 10395)
plt.ylim(6176.1, 6239.9)
plt.xlabel("Sample #")
plt.ylabel("ADC Counts")
plt.title("Run 668, channel033, Pedestal")
plt.grid(True)
plt.legend(loc="upper right")
plt.subplots_adjust(left=0.081, right=0.985, top=0.965, bottom=0.058)
plt.savefig("out.png", dpi=100)
